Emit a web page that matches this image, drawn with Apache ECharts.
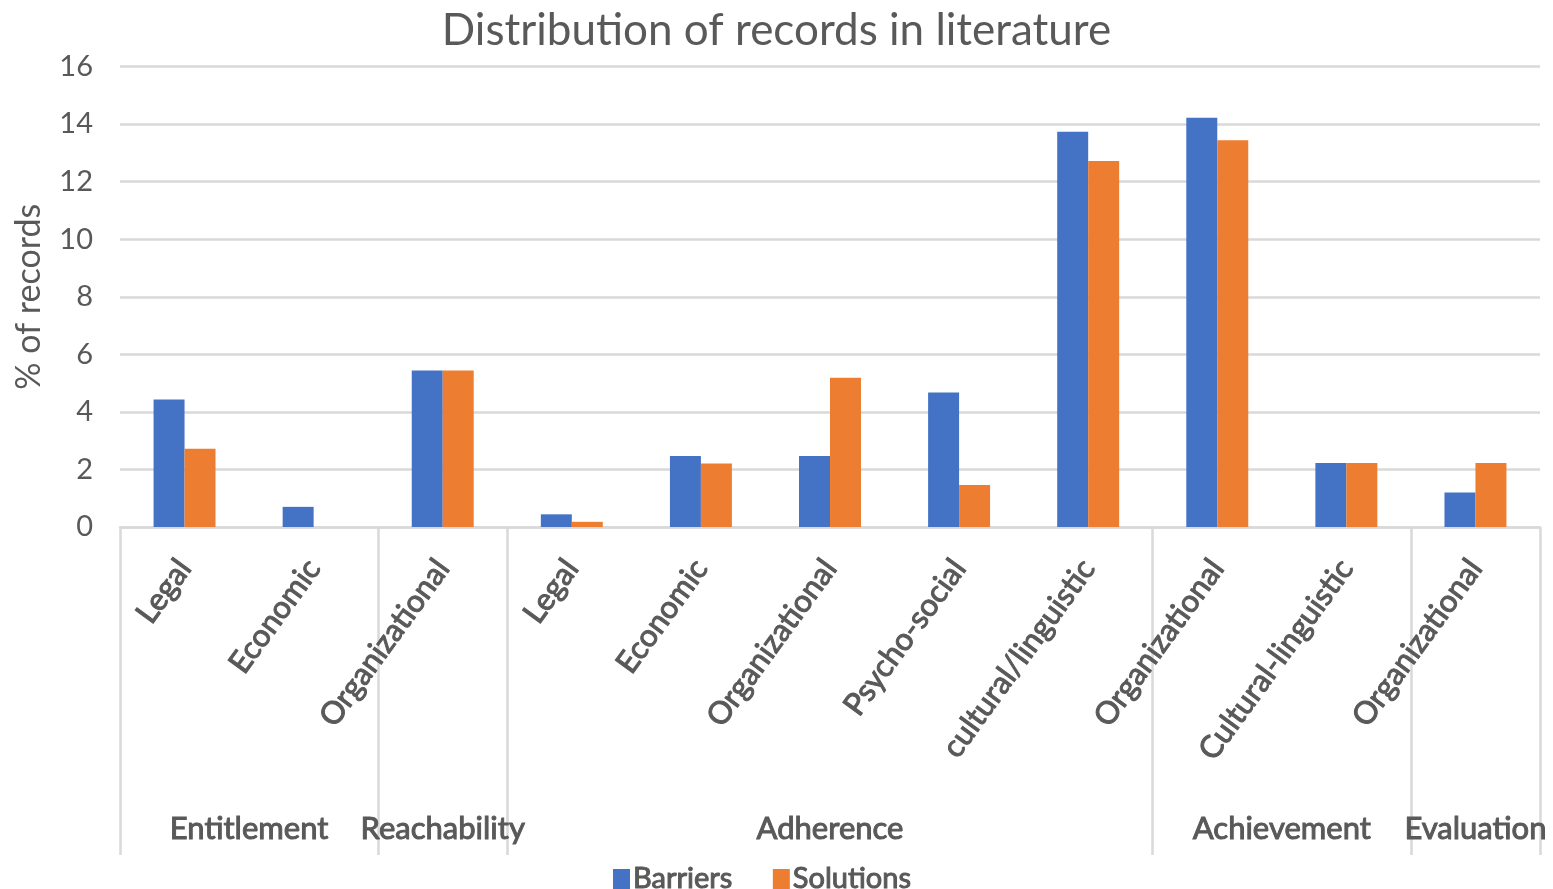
<!DOCTYPE html>
<html>
<head>
<meta charset="utf-8">
<title>Distribution of records in literature</title>
<script src="https://cdn.jsdelivr.net/npm/echarts@6/dist/echarts.min.js"></script>
<style>
  html, body { margin: 0; padding: 0; background: #ffffff; }
  #chart { width: 1553px; height: 889px; }
</style>
</head>
<body>
<div id="chart"></div>
<script>
// Sub-categories along the x axis, grouped by stage
const categories = ['Legal', 'Economic', 'Organizational', 'Legal', 'Economic', 'Organizational',
  'Psycho-social', 'cultural/linguistic', 'Organizational', 'Cultural-linguistic', 'Organizational'];
const groups = ['Entitlement', 'Reachability', 'Adherence', 'Achievement', 'Evaluation'];
const groupSizes = [2, 1, 5, 2, 1];

// % of records
const barriers = [4.43, 0.70, 5.44, 0.44, 2.47, 2.47, 4.67, 13.73, 14.22, 2.22, 1.20];
const solutions = [2.72, 0, 5.44, 0.18, 2.21, 5.19, 1.46, 12.72, 13.44, 2.22, 2.22];

const yTicks = { min: 0, max: 16, step: 2 };

// group boundaries and centres in category units
const bounds = [0];
groupSizes.forEach(s => bounds.push(bounds[bounds.length - 1] + s));
const centres = groupSizes.map((s, i) => bounds[i] + s / 2);

const textColor = '#595959';
const lineColor = '#d9d9d9';
const font = 'Lato, "Open Sans", sans-serif';

// semi-bold look for the category, group and legend texts
const heavy = { fontFamily: font, color: textColor, textBorderColor: textColor, textBorderWidth: 1 };

const chart = echarts.init(document.getElementById('chart'));
chart.setOption({
  animation: false,
  textStyle: { fontFamily: font },
  title: {
    text: 'Distribution of records in literature',
    left: 'center',
    top: 4,
    textStyle: { fontFamily: font, fontSize: 44, fontWeight: 'normal', color: textColor }
  },
  legend: {
    data: ['Barriers', 'Solutions'],
    left: 608,
    top: 859,
    icon: 'rect',
    itemWidth: 17,
    itemHeight: 20,
    itemGap: 40,
    textStyle: Object.assign({ fontSize: 29, padding: [0, 0, 0, -2] }, heavy)
  },
  grid: { left: 120, right: 13, top: 66.5, bottom: 362, containLabel: false, outerBoundsMode: 'none' },
  xAxis: [
    {
      type: 'category',
      data: categories,
      axisLine: { show: true, lineStyle: { color: lineColor, width: 2.5 } },
      axisTick: { show: false },
      axisLabel: Object.assign({
        interval: 0,
        rotate: 54,
        margin: 36,
        fontSize: 31
      }, heavy)
    },
    {
      type: 'value',
      min: 0,
      max: categories.length,
      position: 'bottom',
      axisLine: { show: false },
      splitLine: { show: false },
      axisTick: {
        show: true,
        customValues: bounds,
        length: 328,
        lineStyle: { color: lineColor, width: 2.5 }
      },
      axisLabel: Object.assign({
        customValues: centres,
        margin: 286,
        fontSize: 31,
        formatter: v => {
          const i = centres.findIndex(c => Math.abs(c - v) < 1e-6);
          return i >= 0 ? groups[i] : '';
        }
      }, heavy)
    }
  ],
  yAxis: {
    type: 'value',
    min: yTicks.min,
    max: yTicks.max,
    interval: yTicks.step,
    name: '% of records',
    nameLocation: 'middle',
    nameRotate: 90,
    nameGap: 74,
    nameTextStyle: { fontFamily: font, fontSize: 34, color: textColor },
    axisLine: { show: false },
    axisTick: { show: false },
    axisLabel: { fontFamily: font, fontSize: 29, color: textColor, margin: 27 },
    splitLine: { lineStyle: { color: lineColor, width: 2.5 } }
  },
  series: [
    {
      name: 'Barriers',
      type: 'bar',
      xAxisIndex: 0,
      data: barriers,
      barGap: '0%',
      barCategoryGap: '52%',
      itemStyle: { color: '#4472c4' }
    },
    {
      name: 'Solutions',
      type: 'bar',
      xAxisIndex: 0,
      data: solutions,
      barGap: '0%',
      barCategoryGap: '52%',
      itemStyle: { color: '#ed7d31' }
    }
  ]
});
</script>
</body>
</html>
